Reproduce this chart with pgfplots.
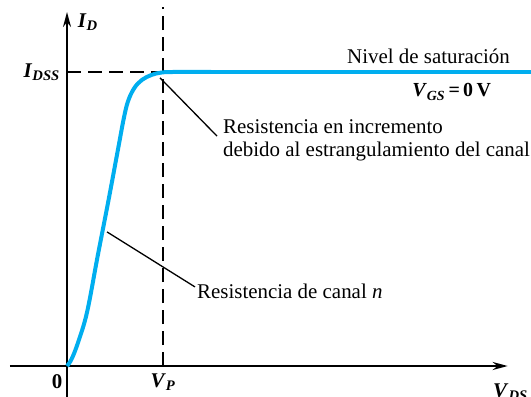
\documentclass[border=0pt]{standalone}
\usepackage{fontspec}
\setmainfont{Liberation Serif}
\usepackage{pgfplots}
\pgfplotsset{compat=1.18}
\usetikzlibrary{arrows.meta}
\definecolor{curva}{HTML}{00AEEF}
\newcommand{\lbl}[2]{\textbf{\textit{#1}}\textsubscript{\textbf{\textit{#2}}}}

\begin{document}
\begin{tikzpicture}[every node/.append style={font=\rmfamily\fontsize{21}{25}\selectfont, inner sep=0pt}]
  \begin{axis}[
    scale only axis, width=531bp, height=397bp,
    xmin=-0.698, xmax=4.833, ymin=-0.1054, ymax=1.2449,
    axis lines=none, clip=false,
  ]
    % ejes
    \draw[line width=2bp,-{Stealth[length=15bp,width=8bp]}] (axis cs:-0.594,0) -- (axis cs:4.59,0);
    \draw[line width=2bp,-{Stealth[length=15bp,width=8bp]}] (axis cs:0,-0.105) -- (axis cs:0,1.204);
    % guias
    \draw[line width=1.5bp,dash pattern=on 14bp off 7bp] (axis cs:1,0) -- (axis cs:1,1.22);
    \draw[line width=1.5bp,dash pattern=on 14bp off 7bp] (axis cs:0,1) -- (axis cs:1,1);
    % curva
    \addplot[curva, line width=4bp, smooth, tension=0.6] coordinates {
      (0,0) (0.05,0.025) (0.12,0.085) (0.21,0.185) (0.32,0.375)
      (0.43,0.560) (0.53,0.735) (0.59,0.840) (0.635,0.900) (0.70,0.945)
      (0.78,0.973) (0.88,0.990) (0.98,0.998) (1.1,1.0) (1.5,1.0)
    };
    \addplot[curva, line width=4bp] coordinates {(1.5,1.0) (4.833,1.0)};
    % lineas de referencia
    \draw[line width=1.3bp] (axis cs:0.969,0.980) -- (axis cs:1.5625,0.782);
    \draw[line width=1.3bp] (axis cs:0.417,0.456) -- (axis cs:1.333,0.269);
    % textos
    \node[anchor=west] at (axis cs:0.11,1.17) {\lbl{I}{D}};
    \node[anchor=east] at (axis cs:-0.073,1.0) {\lbl{I}{DSS}};
    \node at (axis cs:-0.104,-0.054) {\textbf{0}};
    \node at (axis cs:1.0,-0.054) {\lbl{V}{P}};
    \node[anchor=west] at (axis cs:4.4375,-0.088) {\lbl{V}{DS}};
    \node[anchor=base east] at (axis cs:4.615,1.030) {Nivel de saturación};
    \node[anchor=west,font=\rmfamily\fontsize{20}{24}\selectfont] at (axis cs:3.594,0.932) {\lbl{V}{GS}\,\textbf{=\,0\,V}};
    \node[anchor=base west] at (axis cs:1.625,0.7925) {Resistencia en incremento};
    \node[anchor=base west] at (axis cs:1.625,0.711) {debido al estrangulamiento del canal};
    \node[anchor=base west] at (axis cs:1.354,0.231) {Resistencia de canal \textit{n}};
  \end{axis}
  \pgfresetboundingbox
  \path[use as bounding box] (current axis.south west) rectangle (current axis.north east);
\end{tikzpicture}
\end{document}
